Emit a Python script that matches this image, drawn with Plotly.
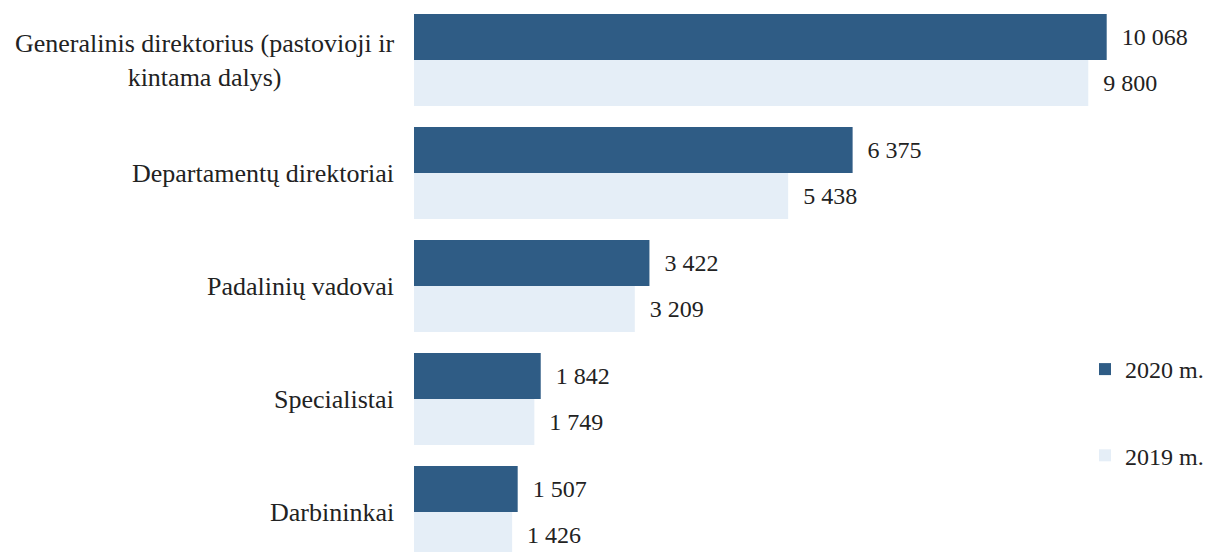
import plotly.graph_objects as go

categories = [
    "Generalinis direktorius (pastovioji ir<br>kintama dalys)",
    "Departamentų direktoriai",
    "Padalinių vadovai",
    "Specialistai",
    "Darbininkai",
]
values_2020 = [10068, 6375, 3422, 1842, 1507]
values_2019 = [9800, 5438, 3209, 1749, 1426]
series_names = ["2020 m.", "2019 m."]

FONT = "Liberation Serif"
DARK = "#2f5c85"
LIGHT = "#e5eef7"

fig = go.Figure()
for name, vals, col in [(series_names[0], values_2020, DARK), (series_names[1], values_2019, LIGHT)]:
    fig.add_trace(go.Bar(
        y=categories, x=vals, name=name, orientation="h",
        marker=dict(color=col, line=dict(width=0)),
        texttemplate="\u00a0\u00a0%{x:,}", textposition="outside",
        textfont=dict(family=FONT, size=24, color="#222"),
        cliponaxis=False, legendgroup=name,
    ))

for c in categories:
    fig.add_annotation(
        x=0, xref="paper", y=c, yref="y", text=c, showarrow=False,
        xanchor="right", align="center", xshift=-18,
        font=dict(family=FONT, size=26, color="#222"),
    )

fig.update_layout(
    width=1210, height=552,
    margin=dict(l=414, r=10, t=0, b=0),
    paper_bgcolor="white", plot_bgcolor="white",
    separators=", ",
    barmode="group", bargap=0.186, bargroupgap=0,
    font=dict(family=FONT, size=24, color="#222"),
    xaxis=dict(range=[0, 11424], visible=False),
    yaxis=dict(categoryorder="array", categoryarray=categories,
               range=[4.354, -0.531], showticklabels=False, showgrid=False,
               zeroline=False, showline=False, ticks=""),
    legend=dict(x=(1085 - 414) / 786, y=1 - 347 / 552, xanchor="left", yanchor="top",
                bgcolor="rgba(0,0,0,0)", tracegroupgap=52,
                font=dict(family=FONT, size=24, color="#222")),
    showlegend=True,
)

fig.write_html("out.html", config={"displayModeBar": False},
               post_script="document.body.style.margin='0';")
